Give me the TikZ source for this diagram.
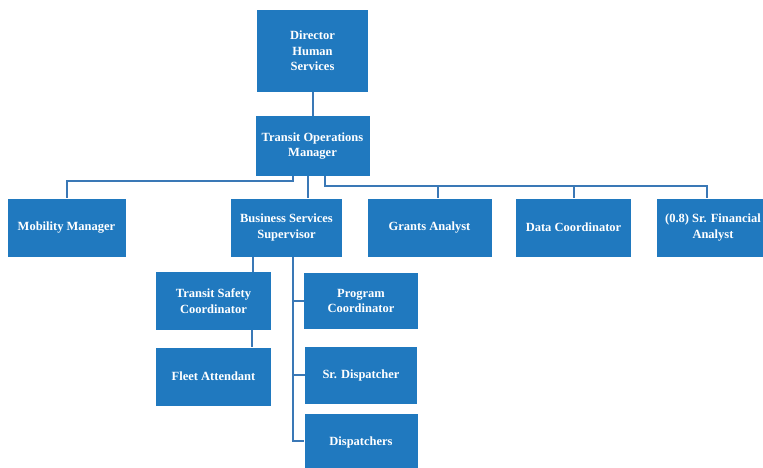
\documentclass[tikz,border=0pt]{standalone}
\usepackage{fontspec}
\setmainfont{Liberation Serif}
\usetikzlibrary{positioning}

\begin{document}
\begin{tikzpicture}[x=1pt,y=-1pt,on grid,node distance=80pt,
    box/.style={rectangle,fill=boxblue,text=white,align=center,
      font=\fontsize{12.5}{15.5}\selectfont\bfseries,
      minimum width=114pt,minimum height=58pt,inner sep=2pt},
    link/.style={draw=lineblue,line width=2pt}]
   \definecolor{boxblue}{RGB}{32,121,191}
   \definecolor{lineblue}{RGB}{58,120,182}
   \useasboundingbox (0,0) rectangle (763,468);
   \node[box,minimum width=111pt,minimum height=82pt] (dir) at (312.5,51) {Director\\Human\\Services};
   \node[box,minimum height=60pt] (tom) [below=95pt of dir] {Transit Operations\\Manager};
   \node[box,minimum width=111pt] (bss) [below left=81.5pt and 26pt of tom] {Business Services\\Supervisor};
   \node[box,minimum width=118pt] (mob) [left=220pt of bss] {Mobility Manager};
   \node[box,minimum width=124pt] (gra) [right=143pt of bss] {Grants Analyst};
   \node[box,minimum width=115pt] (dat) [right=144pt of gra] {Data Coordinator};
   \node[box,minimum width=112pt] (fin) [right=139.5pt of dat] {(0.8) Sr. Financial\\Analyst};
   \node[box,minimum width=115pt] (tsc) [below left=73.5pt and 73pt of bss] {Transit Safety\\Coordinator};
   \node[box,minimum width=115pt] (fle) [below=75.5pt of tsc] {Fleet Attendant};
   \node[box,minimum height=56pt] (prg) [right=147.5pt of tsc] {Program\\Coordinator};
   \node[box,minimum width=112pt,minimum height=57pt] (sdi) [below=74pt of prg] {Sr. Dispatcher};
   \node[box,minimum width=113pt,minimum height=57pt] (dsp) [below=67pt of sdi] {Dispatchers};
   \coordinate (lbar) at (293,181);
   \coordinate (rbar) at (325,186);
   \coordinate (spine) at (293,441);
   % top of the chart
   \path[link] (dir.south) -- (dir.south |- tom.north);
   \path[link] (tom.south -| lbar) -- (lbar) -| (mob.north);
   \path[link] ([xshift=-5pt]tom.south) -- ([xshift=-5pt]tom.south |- bss.north);
   \path[link] (tom.south -| rbar) -- (rbar) -| ([xshift=-6pt]fin.north);
   \path[link] ([xshift=8.5pt]gra.north |- rbar) -- ([xshift=8.5pt]gra.north);
   \path[link] (dat.north |- rbar) -- (dat.north);
   % under the supervisor
   \path[link] ([xshift=39pt]tsc.north |- bss.south) -- ([xshift=39pt]tsc.north);
   \path[link] ([xshift=38pt]tsc.south) -- ([xshift=38pt]fle.north);
   \path[link] (bss.south -| spine) -- (spine) -- (dsp.west |- spine);
   \path[link] (spine |- prg.west) -- (prg.west);
   \path[link] (spine |- sdi.west) -- (sdi.west);
\end{tikzpicture}
\end{document}
